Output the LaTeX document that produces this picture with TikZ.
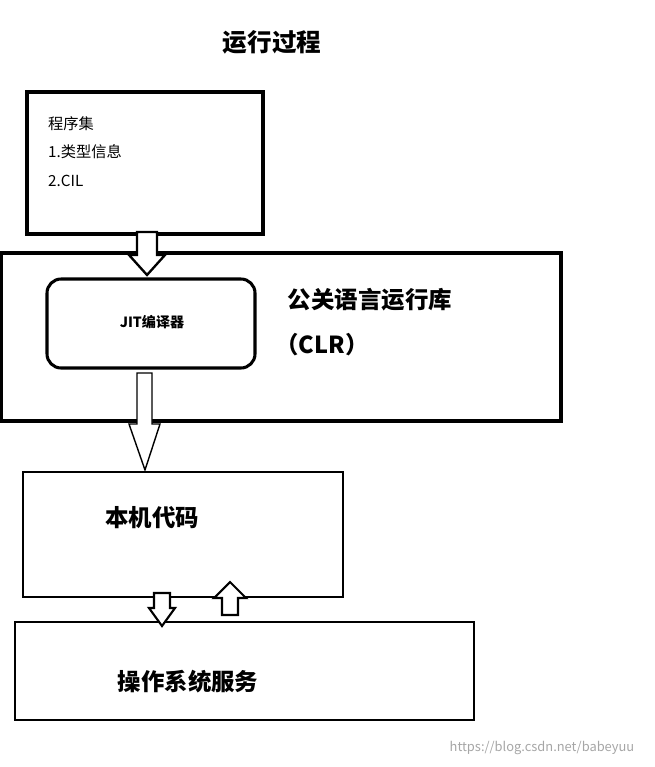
\documentclass[tikz,border=0pt]{standalone}
\usepackage{fontspec}
\setmainfont{Noto Sans CJK SC}
\usetikzlibrary{positioning,calc}
\begin{document}
\begin{tikzpicture}[x=0.03cm,y=-0.03cm,
    box/.style={draw=black, line width=1.5pt, inner sep=0pt},
    hollow/.style={draw=black, line width=1.4pt, fill=white, line join=miter},
    big/.style={font=\fontsize{20}{22}\selectfont\bfseries}
]
\useasboundingbox (0,0) rectangle (655,767);

% Title
\node[font=\fontsize{21}{23}\selectfont\bfseries] (title) at (272,42) {运行过程};

% Assembly
\draw[box, line width=3pt] (27,92) rectangle (263,234);
\node[anchor=west, font=\fontsize{13}{15}\selectfont] (asm1) at (44,124) {程序集};
\node[anchor=west, font=\fontsize{13}{15}\selectfont] (asm2) at (44,152) {1.类型信息};
\node[anchor=west, font=\fontsize{13}{15}\selectfont] (asm3) at (44,181) {2.CIL};

% CLR
\draw[box, line width=3pt] (1,253) rectangle (561,421);
\draw[box, line width=2.6pt, rounded corners=12pt] (47,279) rectangle (255,368);
\node[font=\fontsize{12}{14}\selectfont\bfseries] (jit) at (152,322) {JIT编译器};
\node[big] (clr1) at (370,300) {公关语言运行库};
\node[big] (clr2) at (322,345) {（CLR）};

% Native code and OS
\draw[box, line width=2pt] (23,472) rectangle (343,597);
\node[big] (native) at (152,518) {本机代码};
\draw[box, line width=2pt] (15,622) rectangle (474,720);
\node[big] (os) at (188,682) {操作系统服务};

% hollow arrows
\draw[hollow, line width=2pt] (137,232) -- (157,232) -- (157,255) -- (165,255) -- (147,275) -- (129,255) -- (137,255) -- cycle;
\draw[hollow, line width=1.2pt] (137,373) -- (152,373) -- (152,424) -- (160,424) -- (145,470) -- (129,424) -- (137,424) -- cycle;
\draw[hollow, line width=1.8pt] (154,593) -- (170,593) -- (170,608) -- (175,608) -- (162,626) -- (149,608) -- (154,608) -- cycle;
\draw[hollow, line width=1.8pt] (222,615) -- (238,615) -- (238,598) -- (246,598) -- (230,582) -- (214,598) -- (222,598) -- cycle;

% watermark
\node[text=gray!70, font=\fontsize{11}{13}\selectfont] (mark) at (542,748) {https://blog.csdn.net/babeyuu};
\end{tikzpicture}
\end{document}
